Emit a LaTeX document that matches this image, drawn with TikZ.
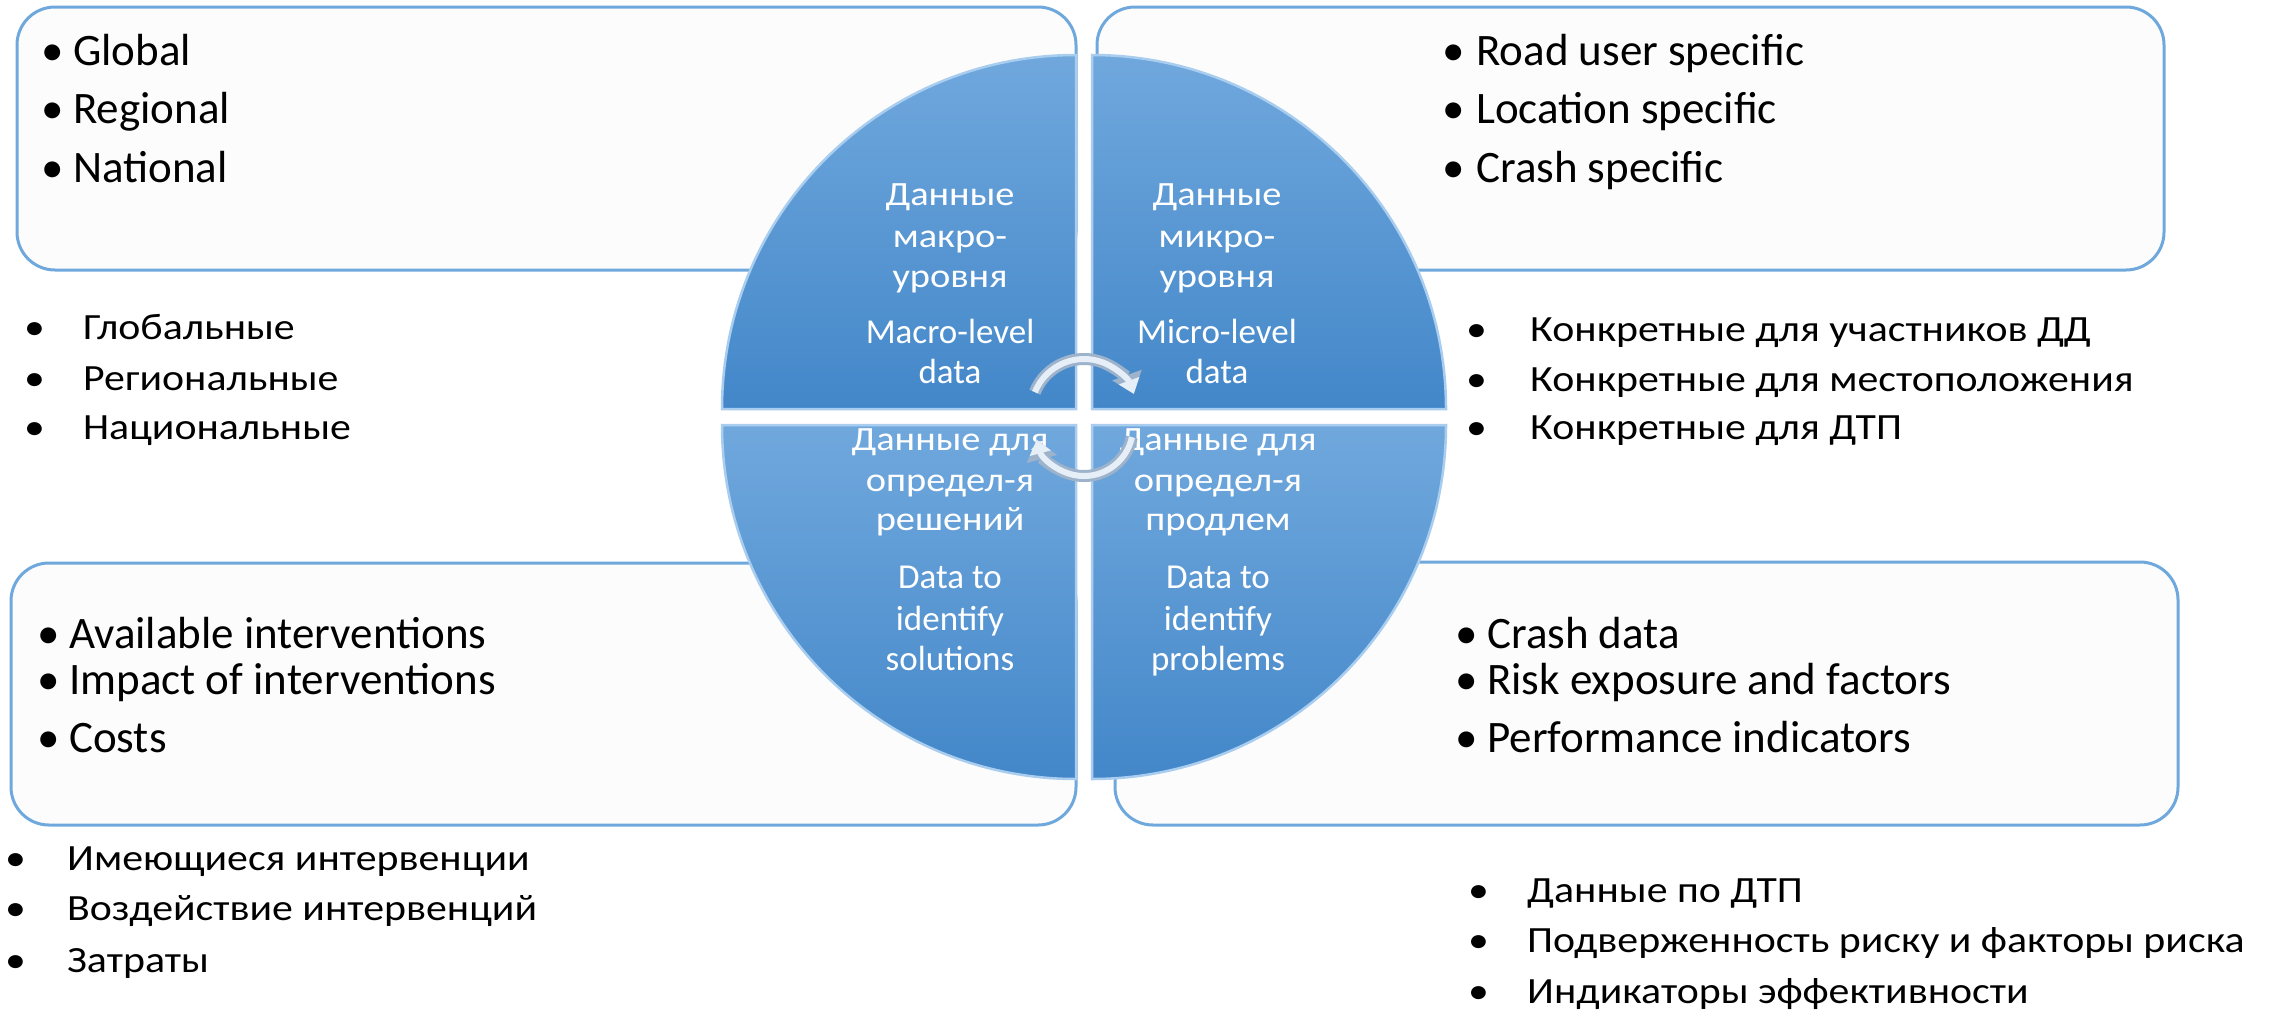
\documentclass[tikz,border=0pt]{standalone}
\usepackage{fontspec}
\setmainfont{Carlito}
\newfontfamily\rufont[FakeStretch=1.13]{Carlito}
\usetikzlibrary{arrows.meta}

\definecolor{panelline}{HTML}{6FA8DC}
\definecolor{panelfill}{HTML}{FCFCFC}
\definecolor{quadtop}{HTML}{70A8DD}
\definecolor{quadbot}{HTML}{4387C9}
\definecolor{quadedge}{HTML}{A9CDEF}
\definecolor{cycdark}{HTML}{9DB3CB}
\definecolor{cyclight}{HTML}{E6EEF8}

\tikzset{
  panel/.style={draw=panelline, line width=3pt, fill=panelfill, rounded corners=38pt},
  quad/.style={top color=quadtop, bottom color=quadbot, draw=quadedge, line width=2.5pt},
  qtext/.style={anchor=base, inner sep=0pt, text=white, font=\fontsize{35}{41}\selectfont},
  qrutext/.style={qtext, font=\rufont\fontsize{34}{41}\selectfont},
  entxt/.style={anchor=base west, inner sep=0pt, font=\fontsize{45}{52}\selectfont},
  rutxt/.style={anchor=base west, inner sep=0pt, font=\rufont\fontsize{37}{45}\selectfont},
  cycback/.style={draw=cycdark, line width=12pt, -{Triangle[width=30pt,length=20pt]}},
  cyc/.style={draw=cyclight, line width=6pt, -{Triangle[width=21pt,length=14pt]}},
}
\newcommand\itm[2]{\makebox[#1][l]{\textbullet}#2}

\begin{document}
\begin{tikzpicture}[x=1pt,y=1pt]
  \useasboundingbox (0,0) rectangle (2285,-1010);
  \fill[white] (0,0) rectangle (2285,-1010);

  % panels behind the circle
  \draw[panel] (17,-7) rectangle (1076,-270);
  \draw[panel] (1097,-7) rectangle (2164,-270);
  \draw[panel] (11,-563) rectangle (1076,-825);
  \draw[panel] (1115,-562) rectangle (2178,-825);

  \foreach \t/\y [count=\i] in {Global/65, Regional/123, National/182}
    \node[entxt] (gl\i) at (41,-\y) {\itm{32pt}{\t}};
  \foreach \t/\y [count=\i] in {Road user specific/65, Location specific/123, Crash specific/182}
    \node[entxt] (sp\i) at (1442,-\y) {\itm{34pt}{\t}};
  \foreach \t/\y [count=\i] in {Available interventions/648, Impact of interventions/694, Costs/752}
    \node[entxt] (so\i) at (37,-\y) {\itm{32pt}{\t}};
  \foreach \t/\y [count=\i] in {Crash data/648, Risk exposure and factors/694, Performance indicators/752}
    \node[entxt] (pr\i) at (1455,-\y) {\itm{32pt}{\t}};

  % russian lists
  \foreach \t/\y [count=\i] in {Глобальные/339, Региональные/390, Национальные/439}
    \node[rutxt] (rgl\i) at (24,-\y) {\itm{59pt}{\t}};
  \foreach \t/\y [count=\i] in {Конкретные для участников ДД/341, Конкретные для местоположения/391, Конкретные для ДТП/439}
    \node[rutxt] (rsp\i) at (1466,-\y) {\itm{64pt}{\t}};
  \foreach \t/\y [count=\i] in {Имеющиеся интервенции/870, Воздействие интервенций/920, Затраты/972}
    \node[rutxt] (rso\i) at (5,-\y) {\itm{62pt}{\t}};
  \foreach \t/\y [count=\i] in {Данные по ДТП/902, Подверженность риску и факторы риска/952, Индикаторы эффективности/1003}
    \node[rutxt] (rpr\i) at (1468,-\y) {\itm{59pt}{\t}};

  % four quadrants
  \coordinate (hub) at (1084,-417);
  \draw[quad] (1076,-409) -- (722,-409) arc[start angle=180, end angle=90, radius=354] -- cycle;
  \draw[quad] (1092,-409) -- (1092,-55) arc[start angle=90, end angle=0, radius=354] -- cycle;
  \draw[quad] (1076,-425) -- (722,-425) arc[start angle=180, end angle=270, radius=354] -- cycle;
  \draw[quad] (1092,-425) -- (1446,-425) arc[start angle=0, end angle=-90, radius=354] -- cycle;

  \foreach \t/\y [count=\i] in {Данные/205, макро-/247, уровня/287}
    \node[qrutext] (qa\i) at (950,-\y) {\t};
  \foreach \t/\y [count=\i] in {Macro-level/343, data/383}
    \node[qtext] (qae\i) at (950,-\y) {\t};
  \foreach \t/\y [count=\i] in {Данные/205, микро-/247, уровня/287}
    \node[qrutext] (qb\i) at (1217,-\y) {\t};
  \foreach \t/\y [count=\i] in {Micro-level/343, data/383}
    \node[qtext] (qbe\i) at (1217,-\y) {\t};
  \foreach \t/\y [count=\i] in {Данные для/450, определ-я/491, решений/530}
    \node[qrutext] (qc\i) at (950,-\y) {\t};
  \foreach \t/\y [count=\i] in {Data to/588, identify/630, solutions/670}
    \node[qtext] (qce\i) at (950,-\y) {\t};
  \foreach \t/\y [count=\i] in {Данные для/450, определ-я/491, продлем/530}
    \node[qrutext] (qd\i) at (1218,-\y) {\t};
  \foreach \t/\y [count=\i] in {Data to/588, identify/630, problems/670}
    \node[qtext] (qde\i) at (1218,-\y) {\t};

  % cycle arrows
  \foreach \s in {cycback, cyc} {
    \draw[\s] (1084,-412) ++(158:53) arc[start angle=158, end angle=20, radius=53];
    \draw[\s] (1084,-427) ++(-12:49) arc[start angle=-12, end angle=-165, radius=49];
  }
\end{tikzpicture}
\end{document}
